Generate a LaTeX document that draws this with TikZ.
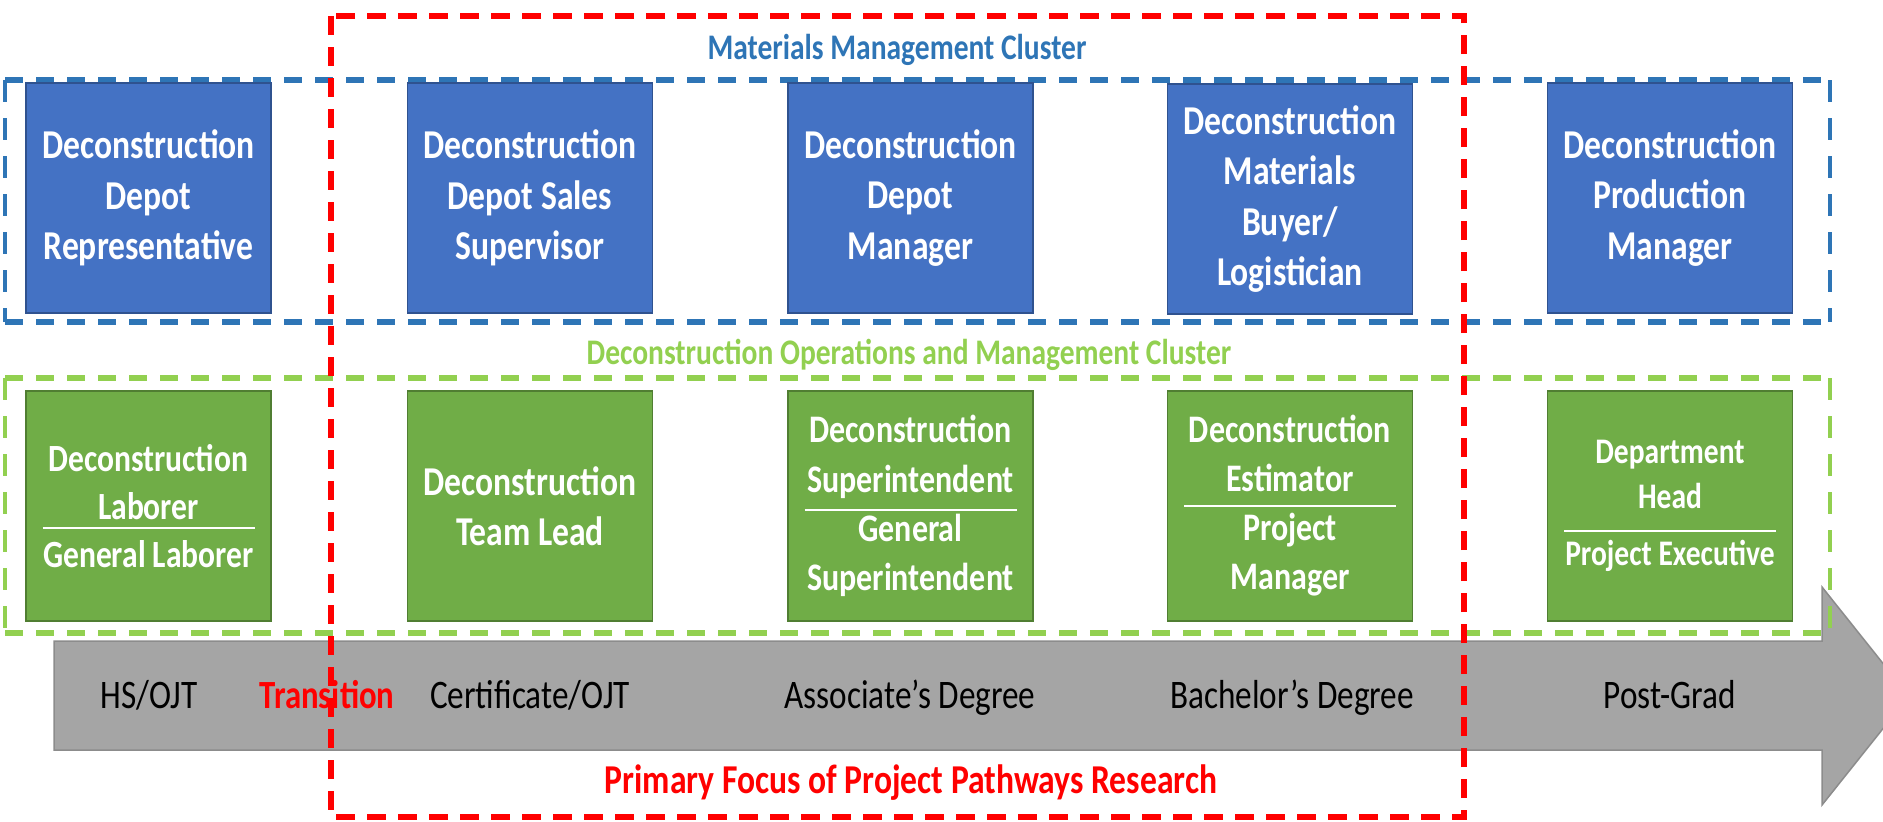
\documentclass[tikz,border=0pt]{standalone}
\usepackage{fontspec}
\setmainfont{Carlito}[FakeStretch=0.82]
\usetikzlibrary{calc}

\definecolor{boxblue}{HTML}{4472C4}
\definecolor{boxblueedge}{HTML}{2F528F}
\definecolor{boxgreen}{HTML}{70AD47}
\definecolor{boxgreenedge}{HTML}{507E32}
\definecolor{clusterblue}{HTML}{2E75B6}
\definecolor{clustergreen}{HTML}{92D050}
\definecolor{arrowgray}{HTML}{A5A5A5}
\definecolor{arrowedge}{HTML}{8C8C8C}
\definecolor{focusred}{HTML}{FF0000}

\tikzset{
  role/.style={minimum width=245pt, minimum height=230pt, inner sep=0pt,
    line width=1.5pt, align=center, text=white,
    font=\bfseries\fontsize{41}{50.5}\selectfont},
  bluerole/.style={role, fill=boxblue, draw=boxblueedge},
  greenrole/.style={role, fill=boxgreen, draw=boxgreenedge},
  divider/.style={draw=white, line width=2pt},
  clusterh/.style={line width=6.5pt, dash pattern=on 18pt off 13pt},
  clusterv/.style={line width=4.5pt, dash pattern=on 22pt off 16pt},
  clustertitle/.style={anchor=base, inner sep=0pt,
    font=\bfseries\fontsize{36}{43}\selectfont},
  level/.style={anchor=base, inner sep=0pt, text=black,
    font=\fontsize{40.5}{48}\selectfont},
  focus/.style={anchor=base, inner sep=0pt, text=focusred,
    font=\bfseries\fontsize{41}{49}\selectfont},
}

\begin{document}
\begin{tikzpicture}[x=1pt, y=-1pt]
\useasboundingbox (0,0) rectangle (1883,822);
\clip (0,0) rectangle (1883,822);

% education timeline arrow
\draw[fill=arrowgray, draw=arrowedge, line width=1.5pt]
  (54,641) -- (1822,641) -- (1822,587) -- (1909,696) -- (1822,805)
  -- (1822,750) -- (54,750) -- cycle;

\node[level] (hs)    at (149,708)  {HS/OJT};
\node[focus, font=\bfseries\fontsize{40}{48}\selectfont] (trans) at (327,708) {Transition};
\node[level] (cert)  at (530,708)  {Certificate/OJT};
\node[level] (assoc) at (910,708)  {Associate’s Degree};
\node[level] (bach)  at (1292,708) {Bachelor’s Degree};
\node[level] (post)  at (1670,708) {Post-Grad};

% career clusters: the long horizontal sides are drawn heavier than the short ones
\coordinate (mtl) at (5,80);   \coordinate (mtr) at (1830,80);
\coordinate (mbl) at (5,322);  \coordinate (mbr) at (1830,322);
\coordinate (otl) at (5,378);  \coordinate (otr) at (1830,378);
\coordinate (obl) at (5,633);  \coordinate (obr) at (1830,633);
\draw[clusterh, draw=clusterblue] (mtl) -- (mtr) (mbl) -- (mbr);
\draw[clusterv, draw=clusterblue] (mtl) -- (mbl) (mtr) -- (mbr);
\draw[clusterh, draw=clustergreen] (otl) -- (otr) (obl) -- (obr);
\draw[clusterv, draw=clustergreen] (otl) -- (obl) (otr) -- (obr);
\node[clustertitle, text=clusterblue]  (mmc) at (897,59)  {Materials Management Cluster};
\node[clustertitle, text=clustergreen] (doc) at (909,364) {Deconstruction Operations and Management Cluster};

% materials management roles
\node[bluerole] (b1) at (148.5,198) {Deconstruction\\Depot\\Representative};
\node[bluerole] (b2) at (530,198)   {Deconstruction\\Depot Sales\\Supervisor};
\node[bluerole] (b3) at (910.5,198) {Deconstruction\\Depot\\Manager};
\node[bluerole] (b4) at (1290,199)  {Deconstruction\\Materials\\Buyer/\\Logistician};
\node[bluerole] (b5) at (1670,198)  {Deconstruction\\Production\\Manager};

% operations and management roles
\node[greenrole, font=\bfseries\fontsize{38.5}{48}\selectfont] (g1) at (148.5,506)
  {Deconstruction\\Laborer\\General Laborer};
\node[greenrole] (g2) at (530,506) {Deconstruction\\Team Lead};
\node[greenrole, font=\bfseries\fontsize{39}{49.3}\selectfont] (g3) at (910.5,506)
  {Deconstruction\\Superintendent\\General\\Superintendent};
\node[greenrole, font=\bfseries\fontsize{39}{49}\selectfont] (g4) at (1290,506)
  {Deconstruction\\Estimator\\Project\\Manager};
\node[greenrole, font=\bfseries\fontsize{36}{45}\selectfont] (g5) at (1670,506)
  {Department\\Head\\[12pt]Project Executive};

\draw[divider] ($(g1.center)+(-106,22)$) -- ($(g1.center)+(106,22)$);
\draw[divider] ($(g3.center)+(-106,4)$)  -- ($(g3.center)+(106,4)$);
\draw[divider] ($(g4.center)+(-106,0)$)  -- ($(g4.center)+(106,0)$);
\draw[divider] ($(g5.center)+(-106,25)$) -- ($(g5.center)+(106,25)$);

% research focus window
\draw[draw=focusred, line width=5.5pt, dash pattern=on 19pt off 12pt]
  (331,16) rectangle (1464,817);
\node[focus] (pfocus) at (911,793) {Primary Focus of Project Pathways Research};
\end{tikzpicture}
\end{document}
